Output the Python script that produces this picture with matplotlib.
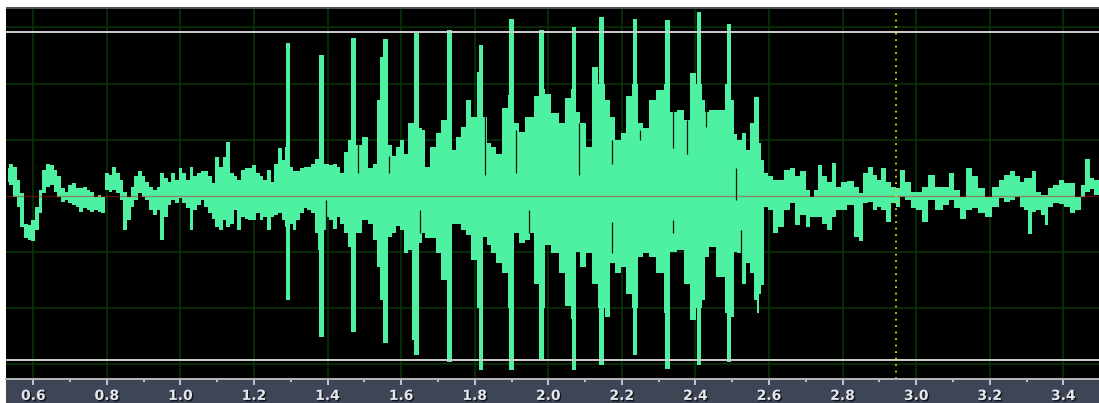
import numpy as np
import matplotlib
matplotlib.use('Agg')
import matplotlib.pyplot as plt
import matplotlib.patheffects as pe

# waveform envelope (time in s, amplitude in grid units)
wave_t = [0.53, 0.54, 0.55, 0.56, 0.57, 0.58, 0.59, 0.60, 0.61, 0.62,
          0.63, 0.64, 0.65, 0.66, 0.67, 0.68, 0.69, 0.70, 0.71, 0.72,
          0.73, 0.74, 0.75, 0.76, 0.77, 0.78, 0.79, 0.80, 0.81, 0.82,
          0.83, 0.84, 0.85, 0.86, 0.87, 0.88, 0.89, 0.90, 0.91, 0.92,
          0.93, 0.94, 0.95, 0.96, 0.97, 0.98, 0.99, 1.00, 1.01, 1.02,
          1.03, 1.04, 1.05, 1.06, 1.07, 1.08, 1.09, 1.10, 1.11, 1.12,
          1.13, 1.14, 1.15, 1.16, 1.17, 1.18, 1.19, 1.20, 1.21, 1.22,
          1.23, 1.24, 1.25, 1.26, 1.27, 1.28, 1.29, 1.30, 1.31, 1.32,
          1.33, 1.34, 1.35, 1.36, 1.37, 1.38, 1.39, 1.40, 1.41, 1.42,
          1.43, 1.44, 1.45, 1.46, 1.47, 1.483, 1.502,
          1.520, 1.529, 1.538, 1.545, 1.558, 1.569, 1.580, 1.592, 1.601, 1.612,
          1.626, 1.633, 1.642, 1.653, 1.660, 1.671, 1.687, 1.703, 1.716, 1.731,
          1.741, 1.757, 1.770, 1.784, 1.798, 1.817, 1.828, 1.838, 1.852, 1.866,
          1.882, 1.900, 1.912, 1.927, 1.948, 1.954, 1.968, 1.982, 1.998, 2.018,
          2.038, 2.052, 2.070, 2.083, 2.092, 2.111, 2.127, 2.145, 2.163, 2.174,
          2.187, 2.206, 2.219, 2.235, 2.251, 2.265, 2.285, 2.303, 2.324, 2.340,
          2.360, 2.378, 2.394, 2.410, 2.423, 2.430, 2.444, 2.467, 2.491, 2.501,
          2.509, 2.518, 2.534, 2.543, 2.553, 2.563, 2.569, 2.577, 2.582, 2.591,
          2.604, 2.618, 2.631, 2.648, 2.666, 2.677, 2.693, 2.707, 2.717, 2.729,
          2.738, 2.752, 2.765, 2.776, 2.788, 2.802, 2.822, 2.840, 2.851, 2.862,
          2.876, 2.888, 2.899, 2.912, 2.926, 2.939, 2.951, 2.962, 2.978, 2.994,
          3.007, 3.024, 3.042, 3.062, 3.083, 3.096, 3.110, 3.128, 3.143, 3.160,
          3.178, 3.198, 3.216, 3.232, 3.247, 3.261, 3.275, 3.288, 3.300, 3.309,
          3.320, 3.334, 3.347, 3.353, 3.363, 3.379, 3.395, 3.411, 3.424, 3.440,
          3.454, 3.465, 3.479, 3.490, 3.50]

wave_top = [0.49, 0.57, 0.51, 0.28, 0.04, -0.50, -0.53, -0.44, -0.20, 0.10,
            0.46, 0.56, 0.54, 0.46, 0.34, 0.13, 0.07, 0.19, 0.22, 0.13,
            0.13, 0.16, 0.10, 0.07, -0.02, 0.01, -0.02, 0.40, 0.37, 0.51,
            0.40, 0.28, 0.07, -0.02, 0.16, 0.34, 0.43, 0.34, 0.25, 0.16,
            0.10, 0.16, 0.40, 0.31, 0.25, 0.40, 0.28, 0.49, 0.40, 0.28,
            0.51, 0.34, 0.40, 0.43, 0.43, 0.34, 0.22, 0.69, 0.51, 0.69,
            0.96, 0.40, 0.34, 0.28, 0.46, 0.49, 0.49, 0.54, 0.40, 0.34,
            0.28, 0.46, 0.25, 0.57, 0.84, 0.63, 0.87, 0.51, 0.43, 0.43,
            0.49, 0.51, 0.51, 0.57, 0.65, 0.66, 0.57, 0.57, 0.54, 0.57,
            0.51, 0.40, 0.78, 1.00, 1.82, 0.90, 1.05,
            0.49, 0.57, 1.70, 2.48, 2.20, 0.90, 0.71, 0.87, 0.99, 0.75,
            1.29, 1.29, 1.40, 1.20, 1.17, 0.51, 0.87, 1.11, 1.35, 1.50,
            0.81, 1.05, 1.23, 1.70, 1.41, 2.20, 1.40, 0.93, 0.87, 0.75,
            1.56, 1.80, 1.30, 1.14, 1.41, 1.41, 1.77, 1.90, 1.82, 1.47,
            1.29, 1.74, 1.90, 1.50, 1.29, 0.87, 2.30, 2.00, 1.70, 1.40,
            0.99, 1.11, 1.77, 2.00, 1.30, 1.20, 1.70, 1.88, 2.00, 1.50,
            1.53, 1.35, 2.18, 2.00, 1.70, 1.50, 1.53, 1.53, 2.00, 1.70,
            1.10, 0.99, 1.11, 0.81, 1.29, 1.76, 1.76, 0.93, 0.63, 0.40,
            0.34, 0.28, 0.28, 0.46, 0.49, 0.34, 0.43, 0.10, -0.02, 0.10,
            0.54, 0.34, 0.25, 0.58, 0.16, 0.25, 0.26, 0.16, 0.04, 0.40,
            0.51, 0.37, 0.28, 0.49, 0.25, 0.16, 0.13, 0.46, 0.25, 0.07,
            0.07, 0.16, 0.37, 0.16, 0.16, 0.40, 0.10, -0.02, 0.49, 0.34,
            0.13, -0.02, 0.16, 0.28, 0.37, 0.43, 0.34, 0.25, 0.31, 0.31,
            0.43, 0.07, 0.01, 0.01, 0.13, 0.19, 0.28, 0.22, 0.23, -0.02,
            0.19, 0.65, 0.31, 0.28, 0.28]

wave_bot = [0.25, 0.19, -0.02, -0.20, -0.56, -0.76, -0.79, -0.82, -0.62, -0.32,
            0.04, 0.16, 0.19, 0.07, -0.02, -0.11, -0.08, -0.14, -0.17, -0.20,
            -0.29, -0.23, -0.26, -0.29, -0.26, -0.29, -0.32, 0.10, 0.07, 0.10,
            0.04, -0.08, -0.62, -0.44, -0.20, -0.08, 0.04, -0.02, -0.08, -0.26,
            -0.35, -0.26, -0.79, -0.38, -0.17, -0.08, -0.14, -0.05, -0.14, -0.23,
            -0.62, -0.26, -0.17, -0.08, -0.20, -0.32, -0.41, -0.56, -0.62, -0.44,
            -0.56, -0.50, -0.26, -0.62, -0.38, -0.41, -0.44, -0.44, -0.32, -0.44,
            -0.38, -0.62, -0.38, -0.35, -0.32, -0.44, -0.56, -0.50, -0.62, -0.44,
            -0.32, -0.23, -0.26, -0.32, -0.67, -0.97, -0.62, -0.38, -0.44, -0.59,
            -0.38, -0.50, -0.67, -0.91, -1.27, -0.67, -0.44,
            -0.50, -0.79, -1.27, -1.87, -2.30, -0.74, -0.67, -0.55, -0.62, -1.03,
            -0.97, -2.58, -2.00, -0.85, -0.67, -0.76, -0.76, -1.03, -1.51, -1.90,
            -0.50, -0.50, -0.62, -0.71, -1.15, -2.00, -0.74, -0.89, -1.03, -1.21,
            -1.39, -2.00, -0.67, -0.85, -0.80, -0.67, -1.57, -2.00, -0.88, -1.03,
            -1.39, -1.98, -2.20, -1.00, -1.27, -1.03, -1.57, -2.00, -2.16, -1.20,
            -1.39, -1.27, -1.75, -2.00, -1.10, -1.03, -1.09, -1.39, -2.10, -1.00,
            -0.97, -1.57, -2.22, -2.00, -1.87, -1.10, -0.91, -1.45, -2.10, -2.16,
            -1.00, -1.03, -1.57, -1.21, -1.39, -1.87, -2.10, -1.75, -1.60, -0.20,
            -0.26, -0.67, -0.56, -0.26, -0.14, -0.53, -0.35, -0.56, -0.38, -0.38,
            -0.38, -0.50, -0.62, -0.38, -0.26, -0.26, -0.17, -0.74, -0.82, -0.14,
            -0.11, -0.26, -0.20, -0.26, -0.47, -0.14, -0.20, -0.02, -0.08, -0.23,
            -0.26, -0.47, -0.08, -0.26, -0.17, -0.08, -0.23, -0.41, -0.26, -0.23,
            -0.32, -0.38, -0.20, -0.05, -0.11, -0.08, -0.02, -0.20, -0.26, -0.68,
            -0.29, -0.26, -0.35, -0.53, -0.20, -0.14, -0.15, -0.20, -0.31, -0.25,
            -0.02, 0.07, 0.11, 0.01, 0.01]

# tall clicks
spike_t = [1.293, 1.384, 1.470, 1.558, 1.642, 1.731, 1.817, 1.900,
           1.982, 2.070, 2.145, 2.236, 2.324, 2.410, 2.491]
spike_top = [2.72, 2.51, 2.82, 2.79, 2.91, 2.96, 2.69, 3.16,
             2.96, 3.01, 3.19, 3.16, 3.13, 3.28, 3.07]
spike_bot = [-1.87, -2.52, -2.43, -2.64, -2.85, -2.97, -3.12, -3.12,
             -2.94, -3.12, -3.03, -2.85, -3.09, -3.03, -2.97]

# thin dark breaks inside the filled body (time, from, to)
gap_t = [1.395, 1.483, 1.567, 1.651, 1.828, 1.912, 1.948, 2.083,
         2.174, 2.174, 2.249, 2.340, 2.340, 2.376, 2.428, 2.509, 2.525]
gap_y0 = [-0.08, 1.05, 0.70, -0.26, 1.47, 1.17, -0.26, 1.29,
          0.99, -0.47, 1.17, 1.53, -0.44, 1.35, 1.70, 0.49, -0.62]
gap_y1 = [-0.62, 0.40, 0.40, -0.67, 0.37, 0.40, -0.67, 0.37,
          0.57, -1.03, 0.99, 0.84, -0.67, 0.75, 1.23, -0.08, -1.40]

major_ticks = [0.6, 0.8, 1.0, 1.2, 1.4, 1.6, 1.8, 2.0, 2.2, 2.4, 2.6, 2.8, 3.0, 3.2, 3.4]
tick_labels = ['0.6', '0.8', '1.0', '1.2', '1.4', '1.6', '1.8', '2.0',
               '2.2', '2.4', '2.6', '2.8', '3.0', '3.2', '3.4']
minor_ticks = [0.7, 0.9, 1.1, 1.3, 1.5, 1.7, 1.9, 2.1, 2.3, 2.5, 2.7, 2.9, 3.1, 3.3]
grid_levels = [-3, -2, -1, 1, 2, 3]
clip_levels = [2.92, -2.94]
cursor_t = 2.945

XLIM = (0.526, 3.497)
YLIM = (-3.28, 3.325)
wave_col = '#4ef0a2'
grid_col = '#0b360b'

fig = plt.figure(figsize=(10.99, 4.03), dpi=100, facecolor='white')
L, W = 0.0055, 0.9945
ax = fig.add_axes([L, 0.0588, W, 0.9182], facecolor='black')
ax.set_xlim(*XLIM)
ax.set_ylim(*YLIM)

for x in major_ticks:
    ax.axvline(x, color=grid_col, lw=1.1, zorder=1)
for y in grid_levels:
    ax.axhline(y, color=grid_col, lw=1.1, zorder=1)

ax.fill_between(wave_t, wave_bot, wave_top, step='mid', color=wave_col, lw=0, zorder=2)
ax.bar(spike_t, np.array(spike_top) - np.array(spike_bot), bottom=spike_bot,
       width=0.012, color=wave_col, lw=0, zorder=2)
ax.vlines(gap_t, gap_y0, gap_y1, color='#0a1a12', lw=0.9, zorder=2.5)

ax.axhline(0, color='#c01818', lw=1.0, alpha=0.45, zorder=3)
for y in clip_levels:
    ax.axhline(y, color='#cfcfcf', lw=1.4, zorder=3)
ax.axvline(cursor_t, color='#e6d200', lw=1.3, ls=(0, (1, 2.6)), zorder=4)

ax.set_xticks([])
ax.set_yticks([])
for s in ax.spines.values():
    s.set_visible(False)

# thin grey strip above the display
sax = fig.add_axes([L, 0.977, W, 0.0066], facecolor='#4d525b')
sax.set_xticks([])
sax.set_yticks([])
for s in sax.spines.values():
    s.set_visible(False)

# time ruler
rax = fig.add_axes([L, 0.0, W, 0.0588], facecolor='#3e4656')
rax.set_xlim(*XLIM)
rax.set_ylim(0, 1)
rax.set_xticks(major_ticks)
rax.set_xticks(minor_ticks, minor=True)
rax.set_yticks([])
rax.tick_params(axis='x', which='both', top=True, bottom=False, direction='in',
                labelbottom=False, labeltop=False, color='#d8dce2', width=1.2)
rax.tick_params(axis='x', which='major', length=4)
rax.tick_params(axis='x', which='minor', length=2.5)
for s in ['left', 'right', 'bottom']:
    rax.spines[s].set_visible(False)
rax.spines['top'].set_color('#b4b8be')
rax.spines['top'].set_linewidth(1.4)
for x, lab in zip(major_ticks, tick_labels):
    rax.text(x, 0.3, lab, ha='center', va='center', fontsize=10, color='#e4e8ee',
             fontweight='bold',
             path_effects=[pe.withSimplePatchShadow(offset=(1, -1), shadow_rgbFace='#101010', alpha=0.9)])

fig.savefig('out.png', dpi=100, facecolor='white')
